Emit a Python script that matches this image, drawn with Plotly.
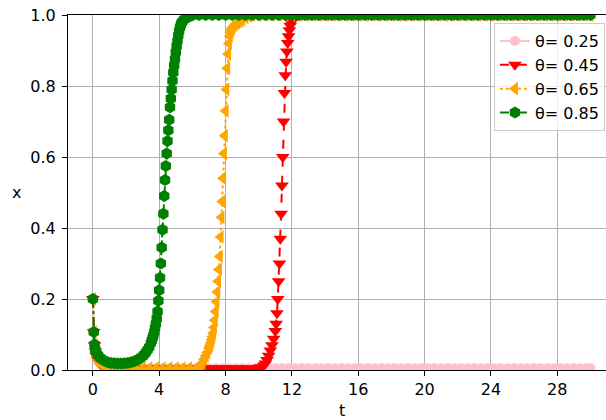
import plotly.graph_objects as go

# ---------------- data ----------------
labels = ["θ= 0.25", "θ= 0.45", "θ= 0.65", "θ= 0.85"]
x_ticks = [0, 4, 8, 12, 16, 20, 24, 28]
y_ticks = [0.0, 0.2, 0.4, 0.6, 0.8, 1.0]

t_025 = [0, 0.05, 0.1, 0.15, 0.2, 0.3, 0.4, 0.5, 0.7, 1.0,
         1.4, 1.8, 2.2, 2.6, 3.0, 3.4, 3.8, 4.2, 4.6, 5.0,
         5.4, 5.8, 6.2, 6.6, 7.0, 7.4, 7.8, 8.2, 8.6, 9.0,
         9.4, 9.8, 10.2, 10.6, 11.0, 11.4, 11.8, 12.2, 12.6, 13.0,
         13.4, 13.8, 14.2, 14.6, 15.0, 15.4, 15.8, 16.2, 16.6, 17.0,
         17.4, 17.8, 18.2, 18.6, 19.0, 19.4, 19.8, 20.2, 20.6, 21.0,
         21.4, 21.8, 22.2, 22.6, 23.0, 23.4, 23.8, 24.2, 24.6, 25.0,
         25.4, 25.8, 26.2, 26.6, 27.0, 27.4, 27.8, 28.2, 28.6, 29.0,
         29.4, 29.8, 30.0]
x_025 = [0.200, 0.107, 0.070, 0.052, 0.040, 0.028, 0.020, 0.015, 0.010, 0.007,
         0.005, 0.005, 0.005, 0.005, 0.005, 0.005, 0.005, 0.005, 0.005, 0.005,
         0.005, 0.005, 0.005, 0.005, 0.005, 0.005, 0.005, 0.005, 0.005, 0.005,
         0.005, 0.005, 0.005, 0.005, 0.005, 0.005, 0.005, 0.005, 0.005, 0.005,
         0.005, 0.005, 0.005, 0.005, 0.005, 0.005, 0.005, 0.005, 0.005, 0.005,
         0.005, 0.005, 0.005, 0.005, 0.005, 0.005, 0.005, 0.005, 0.005, 0.005,
         0.005, 0.005, 0.005, 0.005, 0.005, 0.005, 0.005, 0.005, 0.005, 0.005,
         0.005, 0.005, 0.005, 0.005, 0.005, 0.005, 0.005, 0.005, 0.005, 0.005,
         0.005, 0.005, 0.005]

t_045 = [0, 0.05, 0.1, 0.15, 0.2, 0.3, 0.4, 0.5, 0.7, 1.0,
         1.4, 1.8, 2.2, 2.6, 3.0, 3.4, 3.8, 4.2, 4.6, 5.0,
         5.4, 5.8, 6.2, 6.6, 7.0, 7.4, 7.8, 8.2, 8.6, 9.0,
         9.4, 9.8, 10.1, 10.3, 10.4, 10.5, 10.6, 10.7, 10.8, 10.9,
         11.0, 11.05, 11.1, 11.15, 11.2, 11.25, 11.3, 11.35, 11.4, 11.45,
         11.5, 11.55, 11.6, 11.65, 11.7, 11.75, 11.8, 11.85, 11.9, 11.95,
         12.0, 12.1, 12.2, 12.3, 12.6, 13.0, 13.4, 13.8, 14.2, 14.6,
         15.0, 15.4, 15.8, 16.2, 16.6, 17.0, 17.4, 17.8, 18.2, 18.6,
         19.0, 19.4, 19.8, 20.2, 20.6, 21.0, 21.4, 21.8, 22.2, 22.6,
         23.0, 23.4, 23.8, 24.2, 24.6, 25.0, 25.4, 25.8, 26.2, 26.6,
         27.0, 27.4, 27.8, 28.2, 28.6, 29.0, 29.4, 29.8, 30.0]
x_045 = [0.200, 0.107, 0.070, 0.052, 0.040, 0.028, 0.020, 0.015, 0.010, 0.007,
         0.005, 0.005, 0.005, 0.005, 0.005, 0.005, 0.005, 0.005, 0.005, 0.005,
         0.005, 0.005, 0.005, 0.005, 0.005, 0.005, 0.005, 0.005, 0.005, 0.005,
         0.005, 0.005, 0.008, 0.013, 0.018, 0.028, 0.040, 0.055, 0.070, 0.088,
         0.110, 0.130, 0.160, 0.200, 0.250, 0.300, 0.370, 0.440, 0.520, 0.600,
         0.700, 0.780, 0.830, 0.868, 0.897, 0.921, 0.940, 0.957, 0.970, 0.979,
         0.986, 0.993, 0.997, 0.999, 1.0, 1.0, 1.0, 1.0, 1.0, 1.0,
         1.0, 1.0, 1.0, 1.0, 1.0, 1.0, 1.0, 1.0, 1.0, 1.0,
         1.0, 1.0, 1.0, 1.0, 1.0, 1.0, 1.0, 1.0, 1.0, 1.0,
         1.0, 1.0, 1.0, 1.0, 1.0, 1.0, 1.0, 1.0, 1.0, 1.0,
         1.0, 1.0, 1.0, 1.0, 1.0, 1.0, 1.0, 1.0, 1.0]

t_065 = [0, 0.05, 0.1, 0.15, 0.2, 0.3, 0.4, 0.5, 0.7, 1.0,
         1.4, 1.8, 2.2, 2.6, 3.0, 3.4, 3.8, 4.2, 4.6, 5.0,
         5.4, 5.8, 6.2, 6.4, 6.5, 6.6, 6.7, 6.8, 6.9, 7.0,
         7.05, 7.1, 7.15, 7.2, 7.25, 7.3, 7.35, 7.4, 7.45, 7.5,
         7.55, 7.6, 7.65, 7.7, 7.75, 7.8, 7.85, 7.9, 7.95, 8.0,
         8.05, 8.1, 8.15, 8.2, 8.25, 8.3, 8.35, 8.4, 8.5, 8.6,
         8.7, 8.8, 8.9, 9.0, 9.2, 9.4, 9.6, 10.0, 10.4, 10.8,
         11.2, 11.6, 12.0, 12.4, 12.8, 13.2, 13.6, 14.0, 14.4, 14.8,
         15.2, 15.6, 16.0, 16.4, 16.8, 17.2, 17.6, 18.0, 18.4, 18.8,
         19.2, 19.6, 20.0, 20.4, 20.8, 21.2, 21.6, 22.0, 22.4, 22.8,
         23.2, 23.6, 24.0, 24.4, 24.8, 25.2, 25.6, 26.0, 26.4, 26.8,
         27.2, 27.6, 28.0, 28.4, 28.8, 29.2, 29.6, 30.0]
x_065 = [0.200, 0.107, 0.070, 0.052, 0.040, 0.028, 0.020, 0.015, 0.010, 0.007,
         0.005, 0.005, 0.005, 0.005, 0.005, 0.005, 0.005, 0.005, 0.005, 0.005,
         0.005, 0.005, 0.005, 0.008, 0.012, 0.020, 0.030, 0.040, 0.050, 0.062,
         0.069, 0.076, 0.085, 0.094, 0.104, 0.120, 0.140, 0.165, 0.192, 0.220,
         0.250, 0.283, 0.320, 0.375, 0.430, 0.475, 0.540, 0.610, 0.660, 0.730,
         0.790, 0.850, 0.890, 0.920, 0.940, 0.952, 0.959, 0.964, 0.970, 0.975,
         0.979, 0.982, 0.985, 0.988, 0.993, 0.997, 0.999, 1.0, 1.0, 1.0,
         1.0, 1.0, 1.0, 1.0, 1.0, 1.0, 1.0, 1.0, 1.0, 1.0,
         1.0, 1.0, 1.0, 1.0, 1.0, 1.0, 1.0, 1.0, 1.0, 1.0,
         1.0, 1.0, 1.0, 1.0, 1.0, 1.0, 1.0, 1.0, 1.0, 1.0,
         1.0, 1.0, 1.0, 1.0, 1.0, 1.0, 1.0, 1.0, 1.0, 1.0,
         1.0, 1.0, 1.0, 1.0, 1.0, 1.0, 1.0, 1.0]

t_085 = [0, 0.05, 0.1, 0.15, 0.2, 0.3, 0.4, 0.5, 0.7, 0.9,
         1.1, 1.3, 1.5, 1.7, 1.9, 2.1, 2.3, 2.5, 2.7, 2.85,
         3.0, 3.1, 3.2, 3.3, 3.4, 3.5, 3.55, 3.6, 3.65, 3.7,
         3.75, 3.8, 3.85, 3.9, 3.95, 4.0, 4.05, 4.1, 4.15, 4.2,
         4.25, 4.3, 4.35, 4.4, 4.45, 4.5, 4.55, 4.6, 4.65, 4.7,
         4.75, 4.8, 4.85, 4.9, 4.95, 5.0, 5.05, 5.1, 5.15, 5.2,
         5.25, 5.3, 5.35, 5.4, 5.5, 5.6, 5.7, 5.8, 5.9, 6.0,
         6.4, 6.8, 7.2, 7.6, 8.0, 8.4, 8.8, 9.2, 9.6, 10.0,
         10.4, 10.8, 11.2, 11.6, 12.0, 12.4, 12.8, 13.2, 13.6, 14.0,
         14.4, 14.8, 15.2, 15.6, 16.0, 16.4, 16.8, 17.2, 17.6, 18.0,
         18.4, 18.8, 19.2, 19.6, 20.0, 20.4, 20.8, 21.2, 21.6, 22.0,
         22.4, 22.8, 23.2, 23.6, 24.0, 24.4, 24.8, 25.2, 25.6, 26.0,
         26.4, 26.8, 27.2, 27.6, 28.0, 28.4, 28.8, 29.2, 29.6, 30.0]
x_085 = [0.200, 0.107, 0.072, 0.058, 0.050, 0.042, 0.036, 0.032, 0.026, 0.022,
         0.020, 0.019, 0.018, 0.018, 0.019, 0.020, 0.022, 0.025, 0.029, 0.033,
         0.039, 0.044, 0.050, 0.057, 0.065, 0.076, 0.083, 0.090, 0.098, 0.107,
         0.118, 0.130, 0.145, 0.165, 0.195, 0.225, 0.260, 0.300, 0.345, 0.395,
         0.440, 0.490, 0.535, 0.575, 0.610, 0.645, 0.675, 0.705, 0.740, 0.765,
         0.790, 0.815, 0.838, 0.858, 0.876, 0.895, 0.912, 0.927, 0.942, 0.955,
         0.965, 0.972, 0.978, 0.982, 0.987, 0.991, 0.994, 0.996, 0.998, 0.999,
         1.0, 1.0, 1.0, 1.0, 1.0, 1.0, 1.0, 1.0, 1.0, 1.0,
         1.0, 1.0, 1.0, 1.0, 1.0, 1.0, 1.0, 1.0, 1.0, 1.0,
         1.0, 1.0, 1.0, 1.0, 1.0, 1.0, 1.0, 1.0, 1.0, 1.0,
         1.0, 1.0, 1.0, 1.0, 1.0, 1.0, 1.0, 1.0, 1.0, 1.0,
         1.0, 1.0, 1.0, 1.0, 1.0, 1.0, 1.0, 1.0, 1.0, 1.0,
         1.0, 1.0, 1.0, 1.0, 1.0, 1.0, 1.0, 1.0, 1.0, 1.0]

series_t = [t_025, t_045, t_065, t_085]
series_x = [x_025, x_045, x_065, x_085]

# ---------------- styling ----------------
colors = ["pink", "red", "orange", "green"]
symbols = ["circle", "triangle-down", "triangle-left", "hexagon"]
dashes = ["solid", "dash", "dot", "dashdot"]
msizes = [10, 12, 12, 12]
FONT = "DejaVu Sans"

fig = go.Figure()
for t, x, lab, c, s, d, ms in zip(series_t, series_x, labels, colors, symbols, dashes, msizes):
    fig.add_trace(go.Scatter(
        x=t, y=x, name=lab, mode="lines+markers",
        line=dict(color=c, width=2, dash=d),
        marker=dict(symbol=s, size=ms, color=c, line=dict(width=0)),
    ))

axis_common = dict(
    showgrid=True, gridcolor="#b0b0b0", gridwidth=1,
    showline=True, linecolor="black", linewidth=1.2,
    ticks="outside", ticklen=5, tickwidth=1.2, tickcolor="black",
    zeroline=False,
    tickfont=dict(family=FONT, size=16, color="black"),
)

fig.update_layout(
    width=606, height=420,
    margin=dict(l=68, r=0, t=15, b=50),
    paper_bgcolor="white", plot_bgcolor="white",
    font=dict(family=FONT, size=16, color="black"),
    xaxis=dict(range=[-1.5, 30.94], tickvals=x_ticks, mirror=True, **axis_common),
    yaxis=dict(range=[0, 1], tickvals=y_ticks, tickformat=".1f", mirror=False,
               ticklabelstandoff=3, **axis_common),
    legend=dict(
        x=0.998, xanchor="right", y=0.977, yanchor="top",
        bgcolor="rgba(255,255,255,0.8)", bordercolor="#cccccc", borderwidth=1,
        font=dict(family=FONT, size=16, color="black"),
        tracegroupgap=0,
    ),
    showlegend=True,
    annotations=[
        dict(text="t", xref="x", x=15, yref="paper", y=0, yshift=-40,
             showarrow=False, xanchor="center", yanchor="middle",
             font=dict(family=FONT, size=16, color="black")),
        dict(text="x", xref="paper", x=(16 - 68) / 538, yref="paper", y=0.5,
             showarrow=False, xanchor="center", yanchor="middle",
             font=dict(family=FONT, size=16, color="black")),
    ],
)

fig.write_html(
    "out.html",
    config={"displayModeBar": False},
    post_script="document.body.style.margin='0';document.body.style.padding='0';",
)
